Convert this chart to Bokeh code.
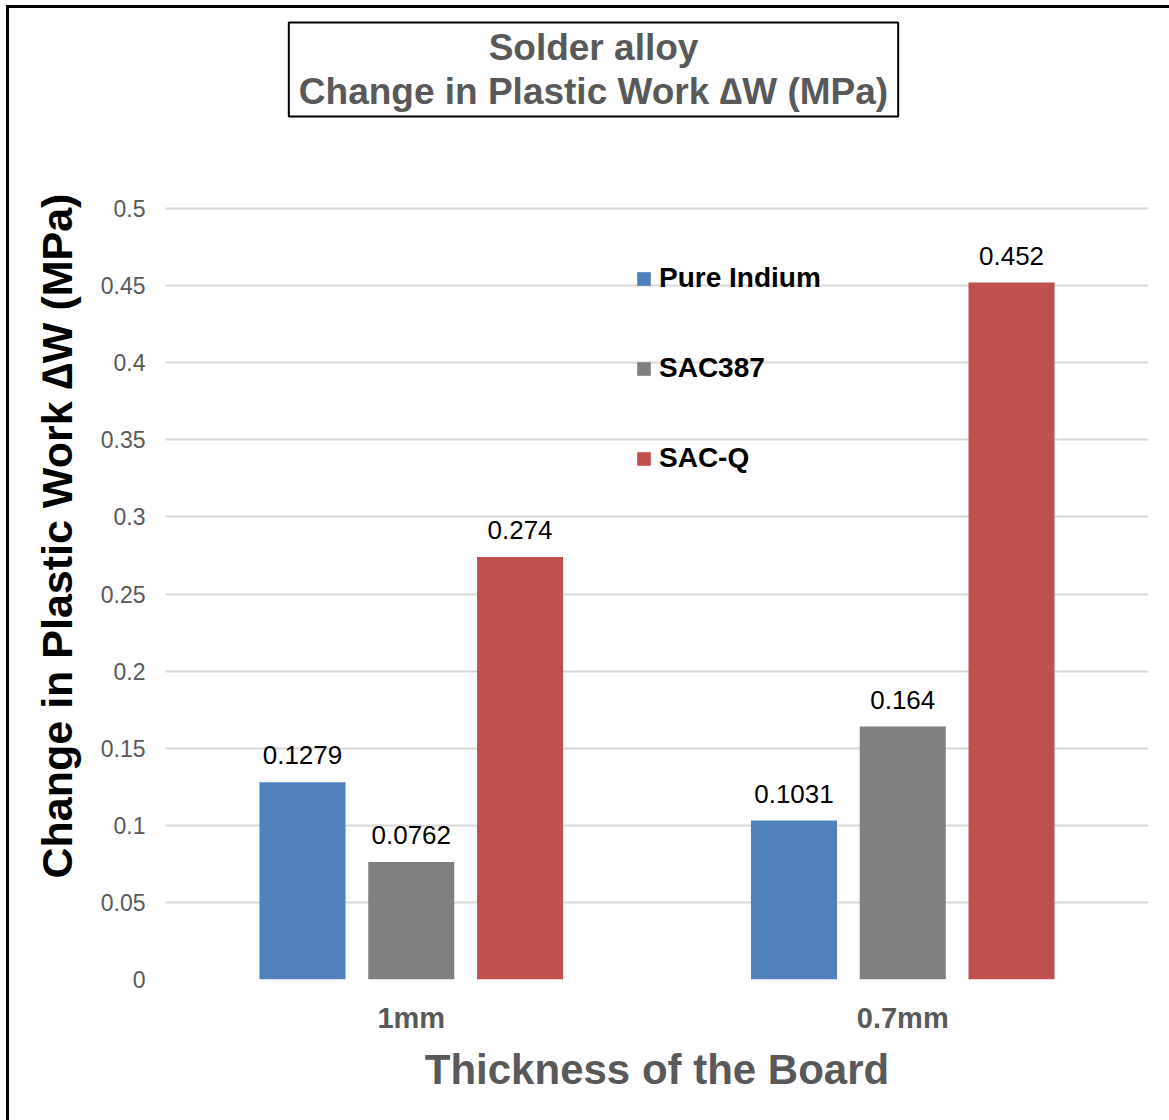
from bokeh.plotting import figure
from bokeh.models import ColumnDataSource, Legend, LegendItem, Title, FixedTicker, Range1d, Label
from bokeh.transform import dodge
from bokeh.core.properties import value
from bokeh.embed import file_html
from bokeh.resources import INLINE

# ---- data ----
categories = ["1mm", "0.7mm"]
series_names = ["Pure Indium", "SAC387", "SAC-Q"]
pure_indium = [0.1279, 0.1031]
sac387 = [0.0762, 0.164]
sac_q = [0.274, 0.452]
pure_indium_labels = ["0.1279", "0.1031"]
sac387_labels = ["0.0762", "0.164"]
sac_q_labels = ["0.274", "0.452"]
y_ticks = [0, 0.05, 0.1, 0.15, 0.2, 0.25, 0.3, 0.35, 0.4, 0.45, 0.5]
y_tick_labels = ["0", "0.05", "0.1", "0.15", "0.2", "0.25", "0.3", "0.35", "0.4", "0.45", "0.5"]
colors = ["#4F81BD", "#808080", "#C0504D"]

title_line1 = "Solder alloy"
title_line2 = "Change in Plastic Work \u2206W (MPa)"
y_title = "Change in Plastic Work \u2206W (MPa)"
x_title = "Thickness of the Board"

FONT = "Liberation Sans"
GREY = "#595959"

src = ColumnDataSource(dict(
    cat=categories,
    pure=pure_indium, sac387=sac387, sacq=sac_q,
    pure_lbl=pure_indium_labels, sac387_lbl=sac387_labels, sacq_lbl=sac_q_labels,
))

# frame spans from the top of the figure down to the zero line; the axis has no line,
# so the extra headroom above 0.5 holds the boxed chart title.
FRAME_H = 971
AXIS_H = 771
y_top = 0.5 * FRAME_H / AXIS_H

p = figure(
    x_range=categories, y_range=Range1d(0, y_top),
    frame_width=983, frame_height=FRAME_H,
    min_border_left=156, min_border_right=21, min_border_top=0, min_border_bottom=141,
    output_backend="svg", toolbar_location=None,
)
p.title.visible = False
p.margin = (5, 0, 0, 6)
p.styles = {"border-left": "3px solid black", "border-top": "3px solid black"}
p.x_range.range_padding = 0
p.outline_line_color = None
p.background_fill_color = "white"
p.border_fill_color = "white"

# chart title as two labels (screen units relative to the frame)
t2 = Label(x=428, y=910, x_units="screen", y_units="screen", text=title_line2,
           text_align="center", text_baseline="alphabetic",
           text_font=FONT, text_font_size="37px", text_font_style="bold", text_color=GREY,
           border_line_color="black", border_line_width=2,
           padding=dict(left=10, right=10, top=48, bottom=5))
t1 = Label(x=428, y=932, x_units="screen", y_units="screen", text=title_line1,
           text_align="center", text_baseline="alphabetic",
           text_font=FONT, text_font_size="37px", text_font_style="bold", text_color=GREY)
p.add_layout(t2)
p.add_layout(t1)

# y title on left
yt = Title(text=y_title, align="left", offset=101, text_font=FONT, text_font_size="43px",
           text_font_style="bold", text_color="black", standoff=33)
p.add_layout(yt, "left")

offsets = [-0.2213, 0.0, 0.2213]
bar_w = 0.175
fields = ["pure", "sac387", "sacq"]
renderers = []
for f, off, c in zip(fields, offsets, colors):
    r = p.vbar(x=dodge("cat", off, range=p.x_range), top=f, width=bar_w, source=src,
               fill_color=c, line_color=None)
    renderers.append(r)
    p.text(x=dodge("cat", off, range=p.x_range), y=f, text=f + "_lbl", source=src,
           text_align="center", text_baseline="alphabetic", y_offset=-27,
           text_font=value(FONT), text_font_size="26px", text_color="black")

legend = Legend(items=[LegendItem(label=n, renderers=[r]) for n, r in zip(series_names, renderers)],
                location=(470, 505), orientation="vertical",
                glyph_width=17, glyph_height=17, label_standoff=7,
                label_text_font=FONT, label_text_font_size="28px", label_text_font_style="bold",
                label_text_color="black", spacing=58, padding=0, margin=0,
                border_line_color=None, background_fill_alpha=0)
p.add_layout(legend)

# axes
p.yaxis.ticker = FixedTicker(ticks=y_ticks)
p.yaxis.major_label_overrides = {t: s for t, s in zip(y_ticks, y_tick_labels)}
p.yaxis.major_label_text_font = FONT
p.yaxis.major_label_text_font_size = "23px"
p.yaxis.major_label_text_color = GREY
p.yaxis.major_label_standoff = 20
p.yaxis.axis_line_color = None
p.yaxis.major_tick_line_color = None
p.yaxis.minor_tick_line_color = None
p.yaxis.major_tick_out = 0
p.yaxis.major_tick_in = 0

p.xaxis.axis_label = x_title
p.xaxis.axis_label_text_font = FONT
p.xaxis.axis_label_text_font_size = "42px"
p.xaxis.axis_label_text_font_style = "bold"
p.xaxis.axis_label_text_color = GREY
p.xaxis.axis_label_standoff = 9
p.xaxis.major_label_text_font = FONT
p.xaxis.major_label_text_font_size = "29px"
p.xaxis.major_label_text_font_style = "bold"
p.xaxis.major_label_text_color = GREY
p.xaxis.major_label_standoff = 22
p.xaxis.axis_line_color = None
p.xaxis.major_tick_line_color = None
p.xaxis.major_tick_out = 0
p.xaxis.major_tick_in = 0

p.xgrid.visible = False
p.ygrid.grid_line_color = "#D9D9D9"
p.ygrid.grid_line_width = 2

open("out.html", "w").write(file_html(p, INLINE))
